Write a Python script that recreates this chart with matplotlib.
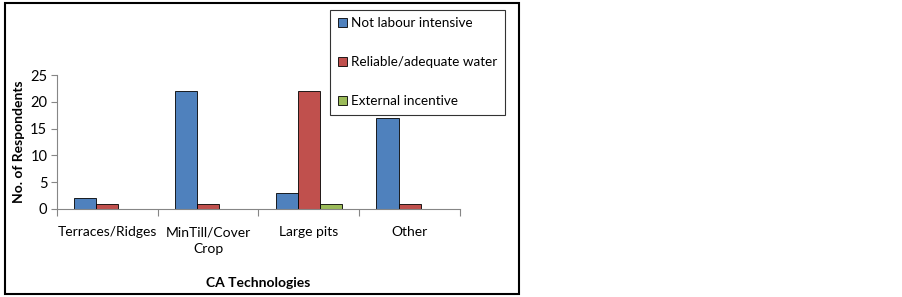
import numpy as np
import matplotlib.pyplot as plt
from matplotlib.patches import Rectangle

categories = ["Terraces/Ridges", "MinTill/Cover\nCrop", "Large pits", "Other"]
not_labour = [2, 22, 3, 17]
reliable_water = [1, 1, 22, 1]
external_incentive = [0, 0, 1, 0]
series_names = ["Not labour intensive", "Reliable/adequate water", "External incentive"]
colors = ["#4F81BD", "#C0504D", "#9BBB59"]

plt.rcParams["font.family"] = ["Lato", "DejaVu Sans"]

W, H = 903, 297
fig = plt.figure(figsize=(W / 100, H / 100), dpi=100)

# outer chart border
fig.patches.append(Rectangle((5 / W, 3 / H), 514 / W, 291 / H, transform=fig.transFigure,
                             fill=False, edgecolor="black", linewidth=1.5))

ax = fig.add_axes([57 / W, 1 - 209 / H, (460 - 57) / W, (209 - 75) / H])

x = np.arange(len(categories))
bw = 0.22
series = [not_labour, reliable_water, external_incentive]
for i, vals in enumerate(series):
    ax.bar(x + (i - 1) * bw, vals, bw, color=colors[i], edgecolor="black", linewidth=0.6,
           label=series_names[i])

ax.set_xlim(-0.5, len(categories) - 0.5)
ax.set_ylim(0, 25)
ax.set_yticks([0, 5, 10, 15, 20, 25])
ax.set_xticks(np.arange(len(categories) + 1) - 0.5)
ax.set_xticklabels([])
ax.tick_params(axis="x", length=5, color="#868686", direction="out")
ax.tick_params(axis="y", length=4, color="#868686", labelsize=10.5, pad=3)
for i, c in enumerate(categories):
    ax.text(x[i], -3.2, c, ha="center", va="top", fontsize=10, linespacing=1.45)

ax.spines["top"].set_visible(False)
ax.spines["right"].set_visible(False)
ax.spines["left"].set_color("#868686")
ax.spines["bottom"].set_color("#868686")

ax.set_ylabel("No. of Respondents", fontsize=10, fontweight="bold", labelpad=4)
fig.text(((57 + 460) / 2) / W, 1 - 283 / H, "CA Technologies", ha="center", va="center",
         fontsize=10, fontweight="bold")

leg = ax.legend(loc="upper right", bbox_to_anchor=(505 / W, 1 - 10 / H),
                bbox_transform=fig.transFigure, fontsize=9.7, frameon=True,
                fancybox=False, edgecolor="black", handlelength=0.7, handleheight=0.7,
                handletextpad=0.3, labelspacing=2.0, borderpad=0.55, borderaxespad=0)
leg.get_frame().set_linewidth(0.8)

fig.savefig("out.png", dpi=100)
